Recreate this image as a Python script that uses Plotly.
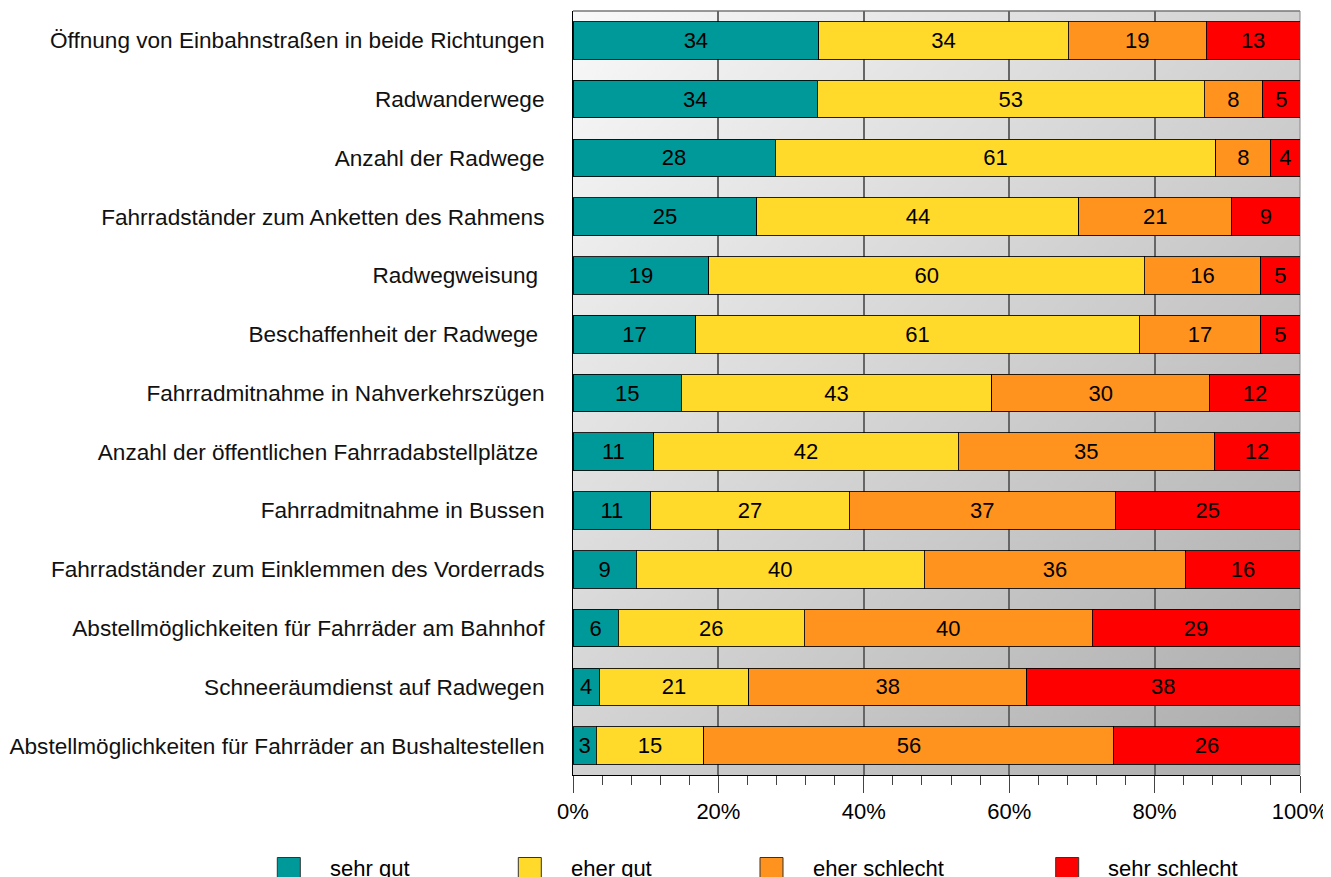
import base64
import plotly.graph_objects as go

# ---------------- data ----------------
categories = [
    "Öffnung von Einbahnstraßen in beide Richtungen",
    "Radwanderwege",
    "Anzahl der Radwege",
    "Fahrradständer zum Anketten des Rahmens",
    "Radwegweisung\u00a0",
    "Beschaffenheit der Radwege\u00a0",
    "Fahrradmitnahme in Nahverkehrszügen",
    "Anzahl der öffentlichen Fahrradabstellplätze\u00a0",
    "Fahrradmitnahme in Bussen",
    "Fahrradständer zum Einklemmen des Vorderrads",
    "Abstellmöglichkeiten für Fahrräder am Bahnhof",
    "Schneeräumdienst auf Radwegen",
    "Abstellmöglichkeiten für Fahrräder an Bushaltestellen",
]
sehr_gut      = [33.8, 33.6, 27.8, 25.3, 18.7, 16.9, 14.9, 11.1, 10.7,  8.7,  6.2,  3.6,  3.2]
eher_gut      = [34.3, 53.2, 60.6, 44.3, 59.9, 61.0, 42.7, 41.9, 27.3, 39.6, 25.6, 20.6, 14.8]
eher_schlecht = [19.0,  8.1,  7.6, 21.0, 16.0, 16.7, 30.0, 35.2, 36.6, 36.0, 39.6, 38.2, 56.4]
sehr_schlecht = [12.9,  5.1,  4.0,  9.4,  5.4,  5.4, 12.4, 11.8, 25.4, 15.7, 28.6, 37.6, 25.6]

series_names = ["sehr gut", "eher gut", "eher schlecht", "sehr schlecht"]
series_values = [sehr_gut, eher_gut, eher_schlecht, sehr_schlecht]
series_colors = ["#009999", "#FFDA2B", "#FF931E", "#FF0000"]

x_tickvals = [0, 20, 40, 60, 80, 100]
x_ticktext = ["0%", "20%", "40%", "60%", "80%", "100%"]

FONT = "Liberation Sans, Arial, sans-serif"

# ---------------- figure ----------------
fig = go.Figure()
for name, vals, col in zip(series_names, series_values, series_colors):
    fig.add_trace(go.Bar(
        y=categories, x=vals, name=name, orientation="h",
        marker=dict(color=col, line=dict(color="rgba(0,0,0,0.85)", width=1)),
        texttemplate="%{x:.0f}", textposition="inside", insidetextanchor="middle",
        textangle=0, textfont=dict(family=FONT, size=22, color="black"),
        showlegend=False, hoverinfo="x+y+name",
    ))

# gradient plot background (SVG data URI)
svg = ('<svg xmlns="http://www.w3.org/2000/svg" width="100" height="100" viewBox="0 0 100 100" '
       'preserveAspectRatio="none"><defs><linearGradient id="g" x1="0" y1="0" x2="1" y2="1">'
       '<stop offset="0" stop-color="#f9f9f9"/><stop offset="1" stop-color="#aaaaaa"/>'
       '</linearGradient></defs><rect width="100" height="100" fill="url(#g)"/></svg>')
src = "data:image/svg+xml;base64," + base64.b64encode(svg.encode()).decode()

OFF = 8  # page body margin
W, H = 1331 - OFF, 877 - OFF
PL, PR, PT, PB = 573, 1300, 11, 775  # plot area in page pixels
L, R, T, B = PL - OFF, W - (PR - OFF), PT - OFF, H - (PB - OFF)
pw, ph = W - L - R, H - T - B

def px2paper(px, py):
    # page pixel -> paper coordinates
    return (px - PL) / pw, (PB - py) / ph

shapes = [
    dict(type="line", xref="paper", yref="paper", x0=0, x1=1, y0=1, y1=1,
         line=dict(color="#777777", width=1.5), layer="below"),
    dict(type="line", xref="paper", yref="paper", x0=1, x1=1, y0=0, y1=1,
         line=dict(color="#888888", width=1), layer="below"),
]
annotations = []
leg_sq_left = [277.3, 518.3, 760.0, 1055.7]
leg_txt_left = [329, 570, 812, 1107]
sq = 23
sq_top = 857.5
for name, col, sx, tx in zip(series_names, series_colors, leg_sq_left, leg_txt_left):
    x0, y0 = px2paper(sx, sq_top + sq)
    x1, y1 = px2paper(sx + sq, sq_top)
    shapes.append(dict(type="rect", xref="paper", yref="paper", x0=x0, x1=x1, y0=y0, y1=y1,
                       fillcolor=col, line=dict(color="#333333", width=1), layer="above"))
    ax, ay = px2paper(tx, 868)
    annotations.append(dict(xref="paper", yref="paper", x=ax, y=ay, xanchor="left", yanchor="middle",
                            text=name, showarrow=False, borderpad=0,
                            font=dict(family=FONT, size=22, color="black")))

fig.update_layout(
    width=W, height=H,
    margin=dict(l=L, r=R, t=T, b=B, pad=0, autoexpand=False),
    barmode="stack", bargap=0.36,
    paper_bgcolor="white", plot_bgcolor="white",
    font=dict(family=FONT, size=22, color="black"),
    uniformtext=dict(minsize=22, mode="show"),
    showlegend=False,
    images=[dict(source=src, xref="paper", yref="paper", x=0, y=1, sizex=1, sizey=1,
                 xanchor="left", yanchor="top", sizing="stretch", layer="below")],
    shapes=shapes,
    annotations=annotations,
)
fig.update_xaxes(
    range=[0, 100], fixedrange=True, automargin=False,
    tickvals=x_tickvals, ticktext=x_ticktext,
    ticks="outside", ticklen=17, tickwidth=1, tickcolor="#444444",
    minor=dict(dtick=4, ticks="outside", ticklen=9, tickwidth=1, tickcolor="#444444", showgrid=False),
    showgrid=True, gridcolor="#666666", gridwidth=1.5,
    showline=True, linecolor="black", linewidth=1,
    zeroline=False,
    tickfont=dict(family=FONT, size=22, color="black"),
    ticklabelstandoff=0,
)
fig.update_yaxes(
    categoryorder="array", categoryarray=categories, autorange="reversed",
    automargin=False,
    showgrid=False, showline=True, linecolor="black", linewidth=1,
    ticks="", ticklabelstandoff=23,
    tickfont=dict(family=FONT, size=22.6, color="#111111"),
)

fig.write_html("out.html")
